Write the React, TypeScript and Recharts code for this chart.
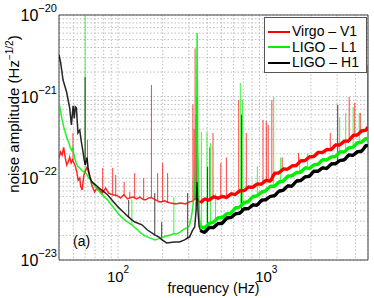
import React from 'react';
import { LineChart, Line, XAxis, YAxis, CartesianGrid, Legend, ReferenceArea, ReferenceLine } from 'recharts';

const FONT = '"Liberation Sans", Arial, Helvetica, sans-serif';

// noise floor: [frequency in Hz, amplitude in units of 1e-23 Hz^-1/2]
const virgoFloor: [number, number][] = [
  [40, 17.8], [41, 21], [42, 19.3], [43, 24], [44.1, 17.8], [45.1, 14.6], [46.2, 15.9], [47.2, 18.2],
  [48.3, 15.4], [49.3, 16.8], [50.1, 15.9], [51.5, 14.2], [52.7, 12], [53.9, 9.5], [55.2, 10.1], [56, 8],
  [57.3, 7.2], [58.7, 10.7], [59.8, 12], [61.5, 13.4], [62.5, 12.7], [64.5, 10.7], [66.5, 8.3], [69.6, 6.8],
  [71.9, 7.6], [75.2, 7.2], [78.3, 6.6], [82.5, 7.6], [86.5, 6.6], [91.7, 6.3], [96.1, 6.2], [99.5, 6.1],
  [104, 5.75], [109.5, 6.3], [116, 5.6], [121, 5.8], [126, 5.9], [133.7, 5.6], [140, 5.9], [149.5, 5.45],
  [154, 5.45], [161, 5.75], [168, 5.8], [174, 5.6], [184.5, 5.3], [191, 5.15], [200, 5.2], [206.5, 5.3],
  [216, 5.1], [226, 5.0], [245, 4.85], [265, 5.0], [286, 4.85], [304, 5.15], [320, 5.3], [330, 5.6],
  [345, 5.6], [352, 5.2], [360, 5.0], [385, 5.8], [412, 5.2], [441, 6.2], [472, 5.5], [505, 6.2],
  [540, 5.6], [578, 6.7], [618, 6.1], [662, 7.3], [708, 6.8], [757, 8.1], [810, 7.5], [867, 8.8],
  [928, 8.2], [993, 9.8], [1062, 9.0], [1090, 9.8], [1137, 12.0], [1216, 11.2], [1301, 13.5], [1392, 12.5],
  [1490, 14.7], [1594, 13.8], [1706, 17.0], [1825, 15.9], [1953, 19.0], [2090, 17.8], [2236, 21.6], [2393, 20.0],
  [2560, 23.3], [2739, 21.6], [2931, 26.6], [3136, 24.7], [3356, 29.5], [3591, 27.5], [3842, 34.9], [4111, 32.8],
  [4399, 39.4], [4707, 37.7], [4830, 42.6],
];

const ligoL1Floor: [number, number][] = [
  [40, 84], [41, 66], [42, 52], [43, 43], [44, 37], [45, 32], [45.8, 29.5], [46.7, 27],
  [47.5, 24], [48.7, 22], [49.5, 23.5], [50.3, 20], [51.1, 17.5], [52, 16], [53.5, 14], [55, 13.5],
  [57, 12.5], [59, 12], [60.2, 11.6], [61.5, 11.2], [62.8, 10.4], [65, 9.6], [68, 8.6], [70, 8.0],
  [73, 7.2], [77, 6.5], [81, 5.9], [85, 5.45], [89, 4.9], [94, 4.3], [99.5, 3.77], [105, 3.4],
  [110, 3.15], [116, 2.92], [124, 2.7], [131, 2.45], [136, 2.33], [142, 2.15], [148, 2.05], [153, 1.95],
  [158, 1.92], [165, 1.85], [172, 1.8], [177, 1.76], [185, 1.8], [193, 1.86], [200, 1.9], [210, 1.95],
  [220, 2.0], [230, 2.05], [238, 2.1], [250, 2.1], [262, 2.2], [275, 2.35], [287, 2.45], [297, 2.5],
  [304, 2.7], [312, 3.3], [320, 4.6], [327, 6.5], [333, 12], [338, 35], [341.5, 600], [345, 25],
  [350, 7], [355, 3.2], [360, 2.6], [385, 2.4], [412, 2.9], [441, 2.8], [472, 3.4], [505, 3.2],
  [540, 3.8], [578, 3.6], [618, 4.5], [662, 4.3], [708, 5.2], [757, 5.0], [810, 6.2], [867, 5.9],
  [928, 7.0], [993, 6.8], [1062, 8.3], [1137, 7.7], [1216, 9.3], [1301, 8.9], [1392, 11.0], [1490, 10.4],
  [1594, 12.2], [1706, 11.4], [1825, 14.0], [1953, 12.7], [2090, 15.1], [2236, 14.4], [2393, 17.5], [2560, 16.3],
  [2739, 18.9], [2931, 17.8], [3136, 21.9], [3356, 20.3], [3591, 24.4], [3842, 23.1], [4111, 28.2], [4399, 26.8],
  [4707, 32], [4830, 29.4],
];

const ligoH1Floor: [number, number][] = [
  [40, 324], [41, 265], [42.6, 160], [45, 114], [46.1, 91], [47.2, 73], [48.5, 45], [49.8, 77],
  [50.7, 54], [51.5, 75], [52.4, 73], [53.7, 36], [55.2, 39], [56.6, 28], [57.8, 22.3], [59.1, 16.8],
  [60.2, 14.6], [61.8, 18], [62.9, 13.4], [64.5, 10.4], [66.5, 9.1], [73, 7.85], [85, 6.3], [99.5, 4.5],
  [108, 3.9], [118, 3.35], [124, 3.1], [130, 2.92], [145, 2.7], [158, 2.33], [177, 2.03], [190, 1.9],
  [197, 1.77], [213, 1.62], [240, 1.66], [260, 1.66], [281, 1.76], [295, 1.86], [304, 1.92], [318, 2.3],
  [329, 2.54], [336, 4], [341, 9], [346, 4], [352, 2.6], [360, 2.3], [385, 2.1], [412, 2.6],
  [441, 2.4], [472, 2.9], [505, 2.7], [540, 3.4], [578, 3.2], [618, 3.8], [662, 3.6], [708, 4.4],
  [757, 4.1], [810, 4.9], [867, 4.5], [928, 5.6], [993, 5.3], [1062, 6.2], [1137, 5.9], [1216, 7.2],
  [1301, 6.9], [1392, 8.4], [1490, 7.7], [1594, 9.6], [1706, 9.1], [1825, 10.8], [1953, 10.2], [2090, 12.7],
  [2236, 11.8], [2393, 13.9], [2560, 12.7], [2739, 15.6], [2931, 14.6], [3136, 17.1], [3356, 16.2], [3591, 20.1],
  [3842, 18.4], [4111, 22], [4399, 20.5], [4707, 26.3], [4830, 24.3],
];

// narrow spectral lines: [frequency in Hz, floor under the line, peak], same units
const virgoLines: [number, number, number][] = [
  [49.7, 16.5, 36], [62.2, 13, 29.5], [78.8, 6.7, 13.4], [92.1, 6.3, 13.4], [96.5, 6.2, 11], [110, 6.1, 9],
  [120, 5.7, 6.8], [129.5, 5.7, 11.6], [149, 5.5, 10.1], [168, 5.8, 139], [185, 5.3, 11.6], [200, 5.2, 15.4],
  [216, 5.1, 11.6], [320, 5.3, 80], [326, 5.5, 40], [331, 5.6, 390], [336, 5.8, 60], [415, 5.5, 24],
  [437, 5.9, 36], [493, 5.8, 15.4], [538, 5.8, 18], [652, 6.9, 91], [733, 7.5, 36], [950, 9, 52],
  [1000, 9.5, 50], [1030, 9.3, 45], [1090, 10, 91], [1280, 12.5, 18], [1650, 15.5, 20.5], [2700, 22.5, 36],
  [3620, 28, 99], [3950, 33, 84], [4300, 36, 63], [4830, 42.6, 240],
];

const ligoL1Lines: [number, number, number][] = [
  [60, 11.8, 1500], [124, 2.7, 5.5], [238, 2.1, 5.9], [365, 2.5, 37], [398, 2.8, 37], [420, 2.85, 27],
  [455, 3.1, 6.5], [668, 4.6, 147], [690, 4.8, 91], [870, 6.2, 14], [1122, 8.0, 99], [1250, 9, 18],
  [1680, 12, 18], [1900, 13, 20], [3124, 20.5, 56], [3430, 22, 63], [3850, 24, 75], [4230, 27, 63],
];

const ligoH1Lines: [number, number, number][] = [
  [60, 14.6, 174], [118, 3.35, 5.45], [177, 2.03, 6.6], [197, 1.77, 2.9], [295, 1.86, 6.6], [341, 9, 100],
  [402, 2.5, 13.8], [680, 3.9, 60], [3030, 15.5, 80],
];

const freqTicks = [40, 50, 60, 70, 80, 90, 100, 200, 300, 400, 500, 600, 700, 800, 900, 1000, 2000, 3000, 4000];
const ampTicks = [
  1, 2, 3, 4, 5, 6, 7, 8, 9, 10, 20, 30, 40, 50, 60, 70, 80, 90,
  100, 200, 300, 400, 500, 600, 700, 800, 900, 1000,
];
const freqExponents: Record<number, string> = { 100: '2', 1000: '3' };
const ampExponents: Record<number, string> = { 1: '\u221223', 10: '\u221222', 100: '\u221221', 1000: '\u221220' };

// above this frequency the spectra are dense, so the floor is drawn as a thick band
const BAND_START = 360;

const series = [
  { name: 'Virgo \u2013 V1', color: '#ff0000', floor: virgoFloor, lines: virgoLines },
  { name: 'LIGO \u2013 L1', color: '#00f000', floor: ligoL1Floor, lines: ligoL1Lines },
  { name: 'LIGO \u2013 H1', color: '#000000', floor: ligoH1Floor, lines: ligoH1Lines },
];

const toRows = (pts: [number, number][]) => pts.map(([f, a]) => ({ f, a }));

const XTick = (props: any) => {
  const { x, y, payload } = props;
  const e = freqExponents[payload.value];
  if (!e) return <g />;
  return (
    <text x={x} y={y + 22} textAnchor="middle" fontFamily={FONT} fill="#000">
      <tspan fontSize={15}>10</tspan>
      <tspan fontSize={10} dy={-9}>{e}</tspan>
    </text>
  );
};

const YTick = (props: any) => {
  const { x, y, payload } = props;
  const e = ampExponents[payload.value];
  if (!e) return <g />;
  return (
    <text x={x - 2} y={y + 6} textAnchor="end" fontFamily={FONT} fill="#000">
      <tspan fontSize={16}>10</tspan>
      <tspan fontSize={11} dy={-9}>{e}</tspan>
    </text>
  );
};

const XTitle = (props: any) => {
  const vb = props.viewBox || { x: 59, y: 260, width: 309 };
  return (
    <g fontFamily={FONT} fill="#000">
      <text x={vb.x + vb.width / 2} y={vb.y + 33} textAnchor="middle" fontSize={14}>frequency (Hz)</text>
      <text x={vb.x + 14} y={vb.y - 14} fontSize={14}>(a)</text>
    </g>
  );
};

const YTitle = (props: any) => {
  const vb = props.viewBox || { x: 0, y: 15 };
  const cx = vb.x + 19;
  const cy = vb.y + 99;
  return (
    <text x={cx} y={cy} transform={`rotate(-90 ${cx} ${cy})`} textAnchor="middle" fontFamily={FONT} fontSize={15} fill="#000">
      noise amplitude (Hz<tspan fontSize={10} dy={-6}>{'\u22121/2'}</tspan><tspan dy={6}>)</tspan>
    </text>
  );
};

const LegendBox = () => (
  <div
    style={{
      boxSizing: 'border-box', width: 103, height: 56, background: '#fff', border: '1px solid #555',
      paddingTop: 6, fontFamily: FONT, fontSize: 14, color: '#000',
    }}
  >
    {series.map((s) => (
      <div key={s.name} style={{ display: 'flex', alignItems: 'center', height: 15.5 }}>
        <span style={{ display: 'inline-block', width: 22, height: 2, background: s.color, marginLeft: 3, marginRight: 2 }} />
        <span style={{ lineHeight: '15.5px', whiteSpace: 'nowrap' }}>{s.name}</span>
      </div>
    ))}
  </div>
);

export default function App() {
  return (
    <div style={{ position: 'absolute', left: 0, top: 0, width: 374, height: 298, background: '#fff' }}>
      <LineChart width={374} height={298} margin={{ top: 15, right: 6, bottom: 0, left: 0 }}>
        <CartesianGrid stroke="#bdbdbd" strokeDasharray="1.5 2" />
        <XAxis
          dataKey="f" type="number" scale="log" domain={[40, 4850]} allowDataOverflow
          ticks={freqTicks} interval={0} tick={XTick} tickLine={false} axisLine={false}
          tickSize={0} tickMargin={0} height={38} label={XTitle}
        />
        <YAxis
          type="number" scale="log" domain={[1, 1000]} allowDataOverflow
          ticks={ampTicks} interval={0} tick={YTick} tickLine={false} axisLine={false}
          tickSize={0} tickMargin={0} width={59} label={YTitle}
        />
        {series.flatMap((s) =>
          s.lines.map(([f, foot, peak]) => (
            <ReferenceLine
              key={`${s.name}-${f}`} segment={[{ x: f, y: foot }, { x: f, y: peak }]}
              stroke={s.color} strokeOpacity={0.75} strokeWidth={1} ifOverflow="hidden"
            />
          ))
        )}
        {series.map((s) => (
          <Line
            key={s.name + '-low'} data={toRows(s.floor.filter(([f]) => f <= BAND_START))} dataKey="a"
            name={s.name} type="linear" stroke={s.color} strokeOpacity={0.85} strokeWidth={1.5}
            dot={false} activeDot={false} isAnimationActive={false}
          />
        ))}
        {series.map((s) => (
          <Line
            key={s.name + '-band'} data={toRows(s.floor.filter(([f]) => f >= BAND_START))} dataKey="a"
            name={s.name} type="basis" stroke={s.color} strokeWidth={3.4}
            dot={false} activeDot={false} isAnimationActive={false}
          />
        ))}
        {series.map((s) => (
          <Line
            key={s.name + '-fuzz'} data={toRows(s.floor.filter(([f]) => f >= BAND_START))} dataKey="a"
            name={s.name} type="linear" stroke={s.color} strokeWidth={1}
            dot={false} activeDot={false} isAnimationActive={false}
          />
        ))}
        <ReferenceArea x1={40} x2={4850} y1={1} y2={1000} fill="none" stroke="#444" strokeWidth={1} ifOverflow="visible" />
        <Legend
          layout="horizontal" verticalAlign="middle" align="center"
          wrapperStyle={{ left: 264, top: 17, width: 103, height: 56 }}
          content={LegendBox}
        />
      </LineChart>
    </div>
  );
}
